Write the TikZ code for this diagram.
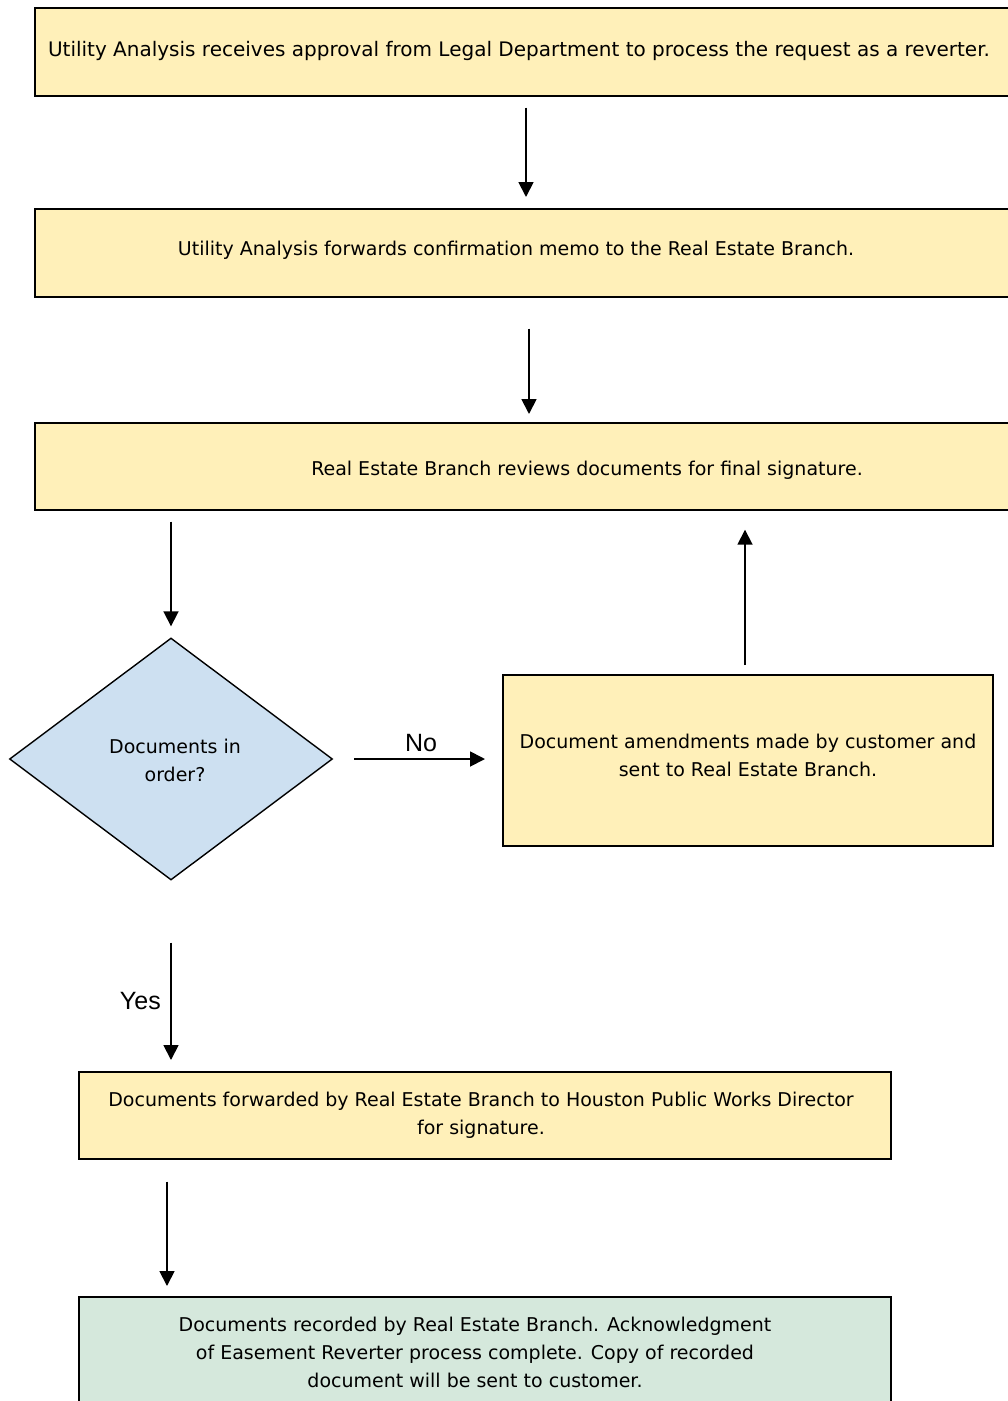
\documentclass[tikz,border=0pt]{standalone}
\usepackage{fontspec}
\setmainfont{DejaVu Sans}
\newfontfamily\arialfont{Liberation Sans}
\usetikzlibrary{shapes.geometric,arrows.meta}
\definecolor{jaune}{RGB}{255,240,185}
\definecolor{bleu}{RGB}{205,224,241}
\definecolor{vert}{RGB}{213,232,220}
\begin{document}
\begin{tikzpicture}[x=1pt,y=-1pt]
    \tikzstyle{boite}=[draw,line width=1.7pt,fill=jaune,anchor=north west,inner sep=0pt]
    \tikzstyle{losange}=[diamond,draw,line width=1.4pt,fill=bleu,inner sep=0pt,minimum width=323pt,minimum height=242pt]
    \tikzstyle{texte}=[font=\fontsize{19}{28}\selectfont,align=center,inner sep=0pt]
    \tikzstyle{reponse}=[font=\arialfont\fontsize{25}{28}\selectfont]
    \tikzstyle{fleche}=[line width=1.8pt,-{Triangle[length=15pt,width=15pt]}]
    \useasboundingbox (0,0) rectangle (1008,1401);
    \clip (0,0) rectangle (1008,1401);
    % boites
    \node[boite,minimum width=1000pt,minimum height=88pt] (b1) at (34,7) {};
    \node[boite,minimum width=1000pt,minimum height=88pt] (b2) at (34,208) {};
    \node[boite,minimum width=1000pt,minimum height=87pt] (b3) at (34,422) {};
    \node[losange] (d) at (171,759) {};
    \node[boite,minimum width=490pt,minimum height=171pt] (b4) at (502,674) {};
    \node[boite,minimum width=812pt,minimum height=87pt] (b5) at (78,1071) {};
    \node[boite,fill=vert,minimum width=812pt,minimum height=130pt] (b6) at (78,1296) {};
    % textes
    \node[texte,font=\fontsize{20}{28}\selectfont] (t1) at (519,51) {Utility Analysis receives approval from Legal Department to process the request as a reverter.};
    \node[texte] (t2) at (516,250) {Utility Analysis forwards confirmation memo to the Real Estate Branch.};
    \node[texte] (t3) at (587,470) {Real Estate Branch reviews documents for final signature.};
    \node[texte] (td) at (175,760) {Documents in\\order?};
    \node[texte] (t4) at (748,755) {Document amendments made by customer and\\sent to Real Estate Branch.};
    \node[texte] (t5) at (481,1115) {Documents forwarded by Real Estate Branch to Houston Public Works Director\\for signature.};
    \node[texte] (t6) at (475,1352) {Documents recorded by Real Estate Branch. Acknowledgment\\of Easement Reverter process complete. Copy of recorded\\document will be sent to customer.};
    % colonnes des fleches
    \coordinate (x1) at (526,0);
    \coordinate (x2) at (529,0);
    \coordinate (x3) at (745,0);
    \coordinate (x4) at (167,0);
    % fleches
    \draw[fleche,shorten <=11pt,shorten >=11pt] (b1.south -| x1) -- (b2.north -| x1);
    \draw[fleche,shorten <=31pt,shorten >=8pt] (b2.south -| x2) -- (b3.north -| x2);
    \draw[fleche,shorten <=11pt,shorten >=11pt] (b3.south -| d.north) -- (d.north);
    \draw[fleche,shorten <=21pt,shorten >=17pt] (d.east) -- (d.east -| b4.west)
        node[reponse,pos=0.52,above=3pt] {No};
    \draw[fleche,shorten <=9pt,shorten >=19pt] (b4.north -| x3) -- (b3.south -| x3);
    \draw[fleche,shorten <=62pt,shorten >=11pt] (d.south) -- (b5.north -| d.south)
        node[reponse,pos=0.63,left=6pt] {Yes};
    \draw[fleche,shorten <=22pt,shorten >=10pt] (b5.south -| x4) -- (b6.north -| x4);
\end{tikzpicture}
\end{document}
